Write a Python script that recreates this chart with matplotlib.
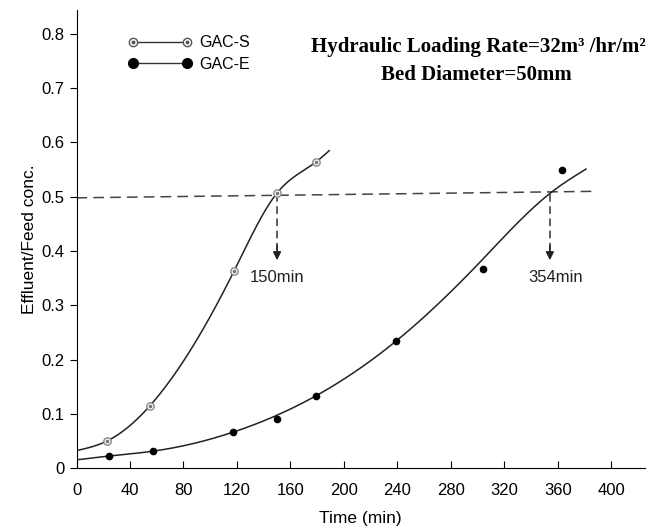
import matplotlib.pyplot as plt
from matplotlib.lines import Line2D
import numpy as np

# GAC-S (open circles with dot) and GAC-E (filled circles)
t_s = np.array([23, 55, 118, 150, 179])
c_s = np.array([0.050, 0.115, 0.364, 0.507, 0.564])
t_e = np.array([24, 57, 117, 150, 179, 239, 304, 363])
c_e = np.array([0.022, 0.031, 0.066, 0.091, 0.133, 0.234, 0.367, 0.550])

# fitted curves
fit_t_s = np.array([0, 23, 55, 118, 150, 179, 189])
fit_c_s = np.array([0.032, 0.050, 0.115, 0.364, 0.507, 0.564, 0.585])
fit_t_e = np.array([0, 24, 57, 117, 179, 239, 300, 355, 381])
fit_c_e = np.array([0.015, 0.022, 0.031, 0.066, 0.133, 0.234, 0.375, 0.508, 0.551])

# 50% breakthrough guide line and arrows
ref_x = [0, 388]
ref_y = [0.498, 0.510]
bt_times = [150, 354]
bt_labels = ["150min", "354min"]


def spline(x, y, xn):
    # natural cubic spline, only used to draw the smooth line
    x = x.astype(float)
    n = len(x)
    h = np.diff(x)
    A = np.zeros((n, n))
    b = np.zeros(n)
    A[0, 0] = A[-1, -1] = 1
    for k in range(1, n - 1):
        A[k, k - 1] = h[k - 1]
        A[k, k] = 2 * (h[k - 1] + h[k])
        A[k, k + 1] = h[k]
        b[k] = 6 * ((y[k + 1] - y[k]) / h[k] - (y[k] - y[k - 1]) / h[k - 1])
    M = np.linalg.solve(A, b)
    i = np.clip(np.searchsorted(x, xn) - 1, 0, n - 2)
    a = x[i + 1] - xn
    c = xn - x[i]
    return (M[i] * a**3 / (6 * h[i]) + M[i + 1] * c**3 / (6 * h[i])
            + (y[i] / h[i] - M[i] * h[i] / 6) * a
            + (y[i + 1] / h[i] - M[i + 1] * h[i] / 6) * c)


plt.rcParams['font.family'] = ['Liberation Sans', 'DejaVu Sans']

fig = plt.figure(figsize=(6.5, 5.31), dpi=100)
ax = fig.add_axes([0.1177, 0.1186, 0.8743, 0.8634])

xs = np.linspace(fit_t_s[0], fit_t_s[-1], 300)
xe = np.linspace(fit_t_e[0], fit_t_e[-1], 300)
ax.plot(xs, spline(fit_t_s, fit_c_s, xs), color='#222222', lw=1.1, zorder=2)
ax.plot(xe, spline(fit_t_e, fit_c_e, xe), color='#222222', lw=1.1, zorder=2)

# data markers
ax.plot(t_s, c_s, ls='none', marker='o', ms=5.3, mfc='white', mec='#888888', mew=1.0, zorder=3)
ax.plot(t_s, c_s, ls='none', marker='o', ms=1.6, mfc='#777777', mec='#777777', zorder=4)
ax.plot(t_e, c_e, ls='none', marker='o', ms=4.5, mfc='black', mec='black', zorder=3)

# 0.5 line and arrows
ax.plot(ref_x, ref_y, ls=(0, (7, 4)), color='#444444', lw=1.1, zorder=1)
for t, lab, dx in zip(bt_times, bt_labels, [0, 4]):
    ax.plot([t, t], [0.505, 0.40], ls=(0, (5, 3)), color='#333333', lw=1.1)
    ax.annotate('', xy=(t, 0.383), xytext=(t, 0.41),
                arrowprops=dict(arrowstyle='-|>', color='#222222', lw=1.1,
                                mutation_scale=12, shrinkA=0, shrinkB=0))
    ax.text(t + dx, 0.352, lab, ha='center', va='center', fontsize=12, color='#222222')

# legend
h_s = (Line2D([], [], color='#333333', lw=1, marker='o', ms=6, mfc='white', mec='#555555'),
       Line2D([], [], ls='none', marker='o', ms=1.8, mfc='#555555', mec='#555555'))
h_e = Line2D([], [], color='#333333', lw=1, marker='o', ms=7, mfc='black', mec='black')
ax.legend([h_s, h_e], ['GAC-S', 'GAC-E'], numpoints=2, frameon=False,
          loc='upper left', bbox_to_anchor=(0.066, 0.975), fontsize=11.5,
          handlelength=4.0, handletextpad=0.45, labelspacing=0.4)

# conditions
serif = ['Liberation Serif', 'DejaVu Serif']
ax.text(0.7065, 0.919, "Hydraulic Loading Rate=32m\u00b3 /hr/m\u00b2", transform=ax.transAxes,
        ha='center', va='center', fontsize=15, fontweight='bold', family=serif)
ax.text(0.703, 0.857, "Bed Diameter=50mm", transform=ax.transAxes,
        ha='center', va='center', fontsize=15, fontweight='bold', family=serif)

ax.set_xlim(0, 425)
ax.set_ylim(0, 0.845)
ax.set_xticks(np.arange(0, 401, 40))
ax.set_yticks(np.arange(0, 0.81, 0.1))
ax.set_yticklabels(['0', '0.1', '0.2', '0.3', '0.4', '0.5', '0.6', '0.7', '0.8'])
ax.spines['top'].set_visible(False)
ax.spines['right'].set_visible(False)
ax.tick_params(axis='x', direction='in', length=5, labelsize=12, pad=11)
ax.tick_params(axis='y', direction='out', length=5, labelsize=12)
ax.set_xlabel("Time (min)", fontsize=12.5, labelpad=9)
ax.set_ylabel("Effluent/Feed conc.", fontsize=12.5, labelpad=3)

fig.savefig("out.png", dpi=100)
